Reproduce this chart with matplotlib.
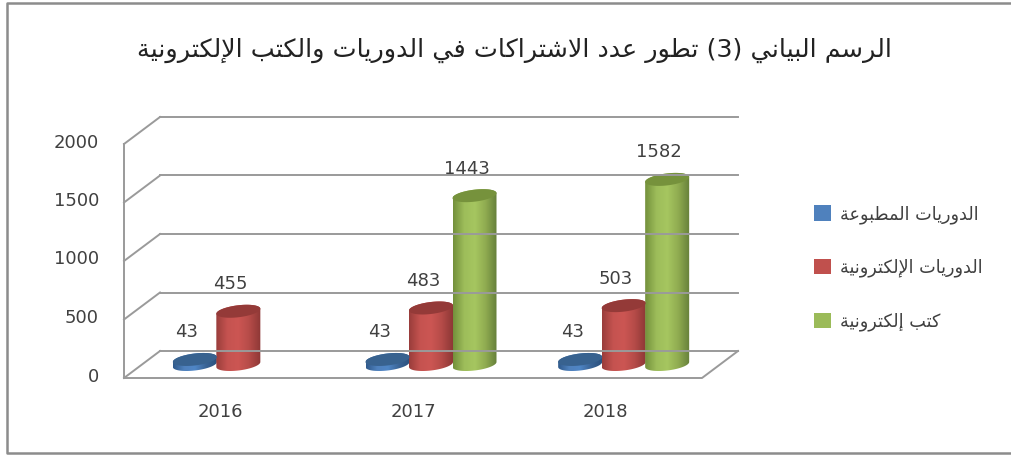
import numpy as np
import matplotlib
matplotlib.use('Agg')
import matplotlib.pyplot as plt
from matplotlib.colors import LinearSegmentedColormap
from matplotlib.patches import Patch, Polygon

years = ['2016', '2017', '2018']
printed = [43, 43, 43]
e_journals = [455, 483, 503]
e_books = [None, 1443, 1582]
y_ticks = [0, 500, 1000, 1500, 2000]

title = 'الرسم البياني (3) تطور عدد الاشتراكات في الدوريات والكتب الإلكترونية'
names = ['الدوريات المطبوعة', 'الدوريات الإلكترونية', 'كتب إلكترونية']

W, H = 1011, 455
UX = 3 / 578      # category units per pixel
UY = 1 / 0.117    # value units per pixel
X0_PX, Y0_PX = 142, 364.5

# isolated, final, initial, medial
FORMS = {
    'ا': (0xFE8D, 0xFE8E), 'إ': (0xFE87, 0xFE88), 'د': (0xFEA9, 0xFEAA),
    'ر': (0xFEAD, 0xFEAE), 'و': (0xFEED, 0xFEEE), 'ة': (0xFE93, 0xFE94),
    'ب': (0xFE8F, 0xFE90, 0xFE91, 0xFE92), 'ت': (0xFE95, 0xFE96, 0xFE97, 0xFE98),
    'س': (0xFEB1, 0xFEB2, 0xFEB3, 0xFEB4), 'ش': (0xFEB5, 0xFEB6, 0xFEB7, 0xFEB8),
    'ط': (0xFEC1, 0xFEC2, 0xFEC3, 0xFEC4), 'ع': (0xFEC9, 0xFECA, 0xFECB, 0xFECC),
    'ف': (0xFED1, 0xFED2, 0xFED3, 0xFED4), 'ك': (0xFED9, 0xFEDA, 0xFEDB, 0xFEDC),
    'ل': (0xFEDD, 0xFEDE, 0xFEDF, 0xFEE0), 'م': (0xFEE1, 0xFEE2, 0xFEE3, 0xFEE4),
    'ن': (0xFEE5, 0xFEE6, 0xFEE7, 0xFEE8), 'ي': (0xFEF1, 0xFEF2, 0xFEF3, 0xFEF4),
}
LAM_ALEF = {'ا': (0xFEFB, 0xFEFC), 'إ': (0xFEF9, 0xFEFA)}


def shape(text):
    # matplotlib has no Arabic shaping, so pick the joined forms and reverse
    out = []
    joins = False
    i = 0
    while i < len(text):
        c = text[i]
        if c not in FORMS:
            out.append({'(': ')', ')': '('}.get(c, c))
            joins = False
            i += 1
            continue
        if c == 'ل' and i + 1 < len(text) and text[i + 1] in LAM_ALEF:
            out.append(chr(LAM_ALEF[text[i + 1]][1 if joins else 0]))
            joins = False
            i += 2
            continue
        f = FORMS[c]
        nxt = text[i + 1] if i + 1 < len(text) else ''
        to_next = len(f) == 4 and nxt in FORMS
        if joins and to_next:
            out.append(chr(f[3]))
        elif joins:
            out.append(chr(f[1]))
        elif to_next:
            out.append(chr(f[2]))
        else:
            out.append(chr(f[0]))
        joins = to_next
        i += 1
    return ''.join(reversed(out))


def cylinder(ax, c, value, colors, top_color):
    a = 22 * UX
    b, k = 6 * UY, 2.5 * UY
    t = np.linspace(0, np.pi, 40)
    top_x = c + a * np.cos(t)
    top_up = value + b * np.sin(t) + k * np.cos(t)
    top_down = value - b * np.sin(t) + k * np.cos(t)
    low_x = top_x[::-1]
    low_y = (-b * np.sin(t) + k * np.cos(t))[::-1]
    side = Polygon(np.r_[np.c_[low_x, low_y], np.c_[top_x, top_up]],
                   closed=True, fc='none', ec='none')
    ax.add_patch(side)
    cmap = LinearSegmentedColormap.from_list('c', colors)
    im = ax.imshow(np.linspace(0, 1, 64)[None, :], cmap=cmap, aspect='auto',
                   extent=(c - a, c + a, -200, value + 200), interpolation='bilinear')
    im.set_clip_path(side)
    ax.add_patch(Polygon(np.r_[np.c_[top_x, top_up], np.c_[top_x[::-1], top_down[::-1]]],
                         closed=True, fc=top_color, ec='none'))


fig = plt.figure(figsize=(W / 100, H / 100), dpi=100)
ax = fig.add_axes([0, 0, 1, 1])
ax.axis('off')

xlim = (-0.5 - X0_PX * UX, -0.5 + (W - X0_PX) * UX)
ylim = (-(H - Y0_PX) * UY, Y0_PX * UY)

# outer frame
fig.add_artist(plt.Line2D([1, 7 / W, 7 / W, 1], [1 - 3 / H, 1 - 3 / H, 1 - 452.5 / H, 1 - 452.5 / H],
                          transform=fig.transFigure, color='#8c8c8c', lw=1.8))

# walls and floor
dx, dy = 18 * UX, 13.5 * UY
grid_c = '#9a9a9a'
for v in y_ticks:
    ax.plot([-0.5 + dx, 2.5 + dx], [v + dy, v + dy], color=grid_c, lw=1.4)
    ax.plot([-0.5 - dx, -0.5 + dx], [v - dy, v + dy], color=grid_c, lw=1.4)
    ax.text(-0.5 - dx - 25 * UX, v - dy + 1.5 * UY, str(v), ha='right', va='center',
            fontsize=13, color='#404040')
ax.plot([-0.5 - dx, -0.5 - dx], [0 - dy, 2000 - dy], color=grid_c, lw=1.4)
ax.plot([-0.5 - dx, 2.5 - dx, 2.5 + dx], [-dy, -dy, dy], color=grid_c, lw=1.4)

# bars
offsets = [-1, 0, 1]
series = [
    (printed, ['#2f5a8c', '#4f81bd', '#4f86c6', '#3a6496', '#2c527f'], '#38628f'),
    (e_journals, ['#9a3d3b', '#c55350', '#cc5653', '#b54b48', '#8e3836'], '#943a38'),
    (e_books, ['#74913c', '#9dbd5a', '#a6c660', '#8fab50', '#66803a'], '#76923c'),
]
for i, year in enumerate(years):
    for off, (vals, colors, top_color) in zip(offsets, series):
        if vals[i] is None:
            continue
        c = i + off * 43.5 * UX
        cylinder(ax, c, vals[i], colors, top_color)
        ax.annotate(str(vals[i]), (c, vals[i]), xytext=(-8, 27), textcoords='offset pixels',
                    ha='center', va='center', fontsize=13, color='#404040', zorder=10)
    ax.text(i - dx, -dy - 34 * UY, year, ha='center', va='center', fontsize=13, color='#404040')

ax.set_xlim(xlim)
ax.set_ylim(ylim)

handles = [Patch(fc=c, ec='none', label=shape(n))
           for c, n in zip(['#4f81bd', '#c0504d', '#9bbb59'], names)]
ax.legend(handles=handles, loc='upper left', bbox_to_anchor=(814 / W, 1 - 205 / H), frameon=False,
          fontsize=12.7, handlelength=0.96, handleheight=0.96, handletextpad=0.5,
          labelspacing=2.0, borderpad=0, borderaxespad=0, labelcolor='#404040')

ax.text(-0.5 + (514 - X0_PX) * UX, (Y0_PX - 50) * UY, shape(title), ha='center', va='center',
        fontsize=18.3, color='#222222')

fig.savefig('out.png', dpi=100)
